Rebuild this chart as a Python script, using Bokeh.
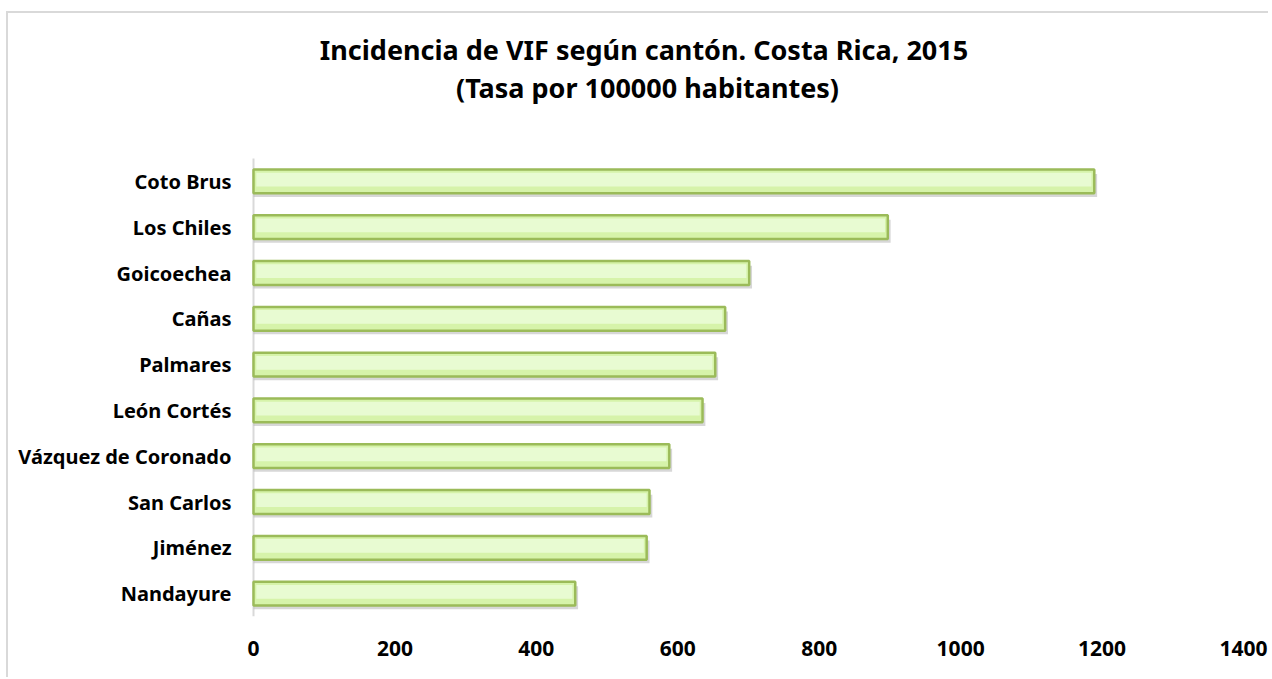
from bokeh.plotting import figure
from bokeh.models import ColumnDataSource, Label, Range1d
from bokeh.transform import dodge
from bokeh.embed import file_html
from bokeh.resources import INLINE

cantones = ["Coto Brus", "Los Chiles", "Goicoechea", "Cañas", "Palmares",
            "León Cortés", "Vázquez de Coronado", "San Carlos", "Jiménez", "Nandayure"]
tasas = [1189, 897, 701, 667, 653, 635, 588, 560, 556, 455]
x_ticks = [0, 200, 400, 600, 800, 1000, 1200, 1400]
title_1 = "Incidencia  de VIF según cantón. Costa Rica, 2015"
title_2 = "(Tasa por 100000 habitantes)"

FONT = "Noto Sans"
n = len(cantones)
pos = [n - 1 - i for i in range(n)]  # first category at top
src = ColumnDataSource(dict(cat=cantones, val=tasas, pos=pos, zero=[0] * n))

W, H = 1262, 666
FRAME_H = 603
px_per_unit_x = 990 / 1400.0
px_per_unit_y = 45.8

p = figure(width=W, height=H, output_backend="svg", toolbar_location=None,
           x_range=Range1d(-245 / px_per_unit_x, 1400 + 27 / px_per_unit_x),
           y_range=Range1d(-0.5, -0.5 + FRAME_H / px_per_unit_y),
           y_axis_location=None,
           min_border_left=0, min_border_right=0, min_border_top=0,
           min_border_bottom=H - FRAME_H)
p.styles = {"border-left": "2px solid #d9d9d9", "border-top": "2px solid #d9d9d9",
            "margin-left": "6px", "margin-top": "11px"}
p.outline_line_color = None
p.xgrid.grid_line_color = None
p.ygrid.grid_line_color = None

# category axis line
p.segment(x0=0, y0=-0.5, x1=0, y1=n - 0.5, line_color="#d9d9d9", line_width=2)

# shadow
p.hbar(y=dodge("pos", -0.09), left=0, right=dodge("val", 4), height=0.5,
       source=src, fill_color="#bdbdbd", fill_alpha=0.6, line_color=None)
# main bar
p.hbar(y="pos", left=0, right="val", height=0.52, source=src,
       fill_color="#d6f3aa", line_color="#9bbb59", line_width=2.5)
# lighter highlight upper part
p.hbar(y=dodge("pos", 0.04), left=4, right=dodge("val", -4), height=0.3,
       source=src, fill_color="#e8fbd2", line_color=None)

# category labels
p.text(x="zero", y="pos", text="cat", source=src, x_offset=-22,
       text_align="right", text_baseline="middle",
       text_font={"value": FONT}, text_font_style="bold",
       text_font_size="20px", text_color="#000000")

p.xaxis.ticker = x_ticks
p.xaxis.axis_line_color = None
p.xaxis.major_tick_line_color = None
p.xaxis.minor_tick_line_color = None
p.xaxis.major_label_text_font = FONT
p.xaxis.major_label_text_font_style = "bold"
p.xaxis.major_label_text_font_size = "21px"
p.xaxis.major_label_text_color = "#000000"
p.xaxis.major_label_standoff = 18

for txt, yy in [(title_1, 567), (title_2, 529)]:
    p.add_layout(Label(x=639, y=yy, x_units="screen", y_units="screen", text=txt,
                       text_align="center", text_baseline="middle",
                       text_font=FONT, text_font_style="bold",
                       text_font_size="27px", text_color="#000000"))

open("out.html", "w").write(file_html(p, INLINE))
